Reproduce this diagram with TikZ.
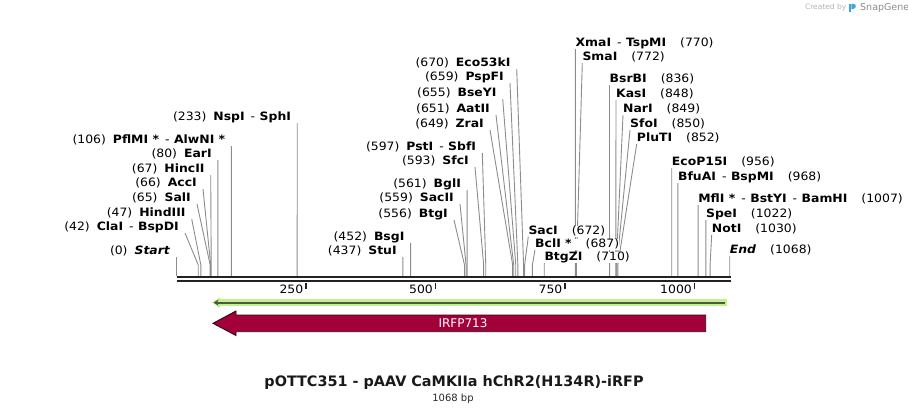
\documentclass[tikz,border=0pt]{standalone}
\usepackage{fontspec}
\setmainfont{DejaVu Sans}
\newfontfamily\sitefam{DejaVu Sans}[FakeStretch=1.08]
\usetikzlibrary{arrows.meta,calc,backgrounds}
\definecolor{leadgray}{RGB}{140,140,140}
\definecolor{axisdark}{RGB}{34,34,34}
\definecolor{featred}{RGB}{163,0,58}
\definecolor{featedge}{RGB}{40,10,20}
\definecolor{orfgreen}{RGB}{192,242,140}
\definecolor{orfdark}{RGB}{75,90,64}
\definecolor{snapblue}{RGB}{64,164,222}
\newcommand{\sitefont}{\sitefam\fontsize{11.5}{13}\selectfont}
\newcommand{\sdash}{\hspace{6pt}-\hspace{4.5pt}}
\tikzset{
  siteL/.style={anchor=south east, inner xsep=6pt, inner ysep=0pt, fill=white,
                text height=8.5pt, text depth=2.5pt, font=\sitefont},
  siteR/.style={siteL, anchor=south west, inner xsep=0pt},
  leader/.style={leadgray, line width=0.9pt},
  tickmark/.style={axisdark, line width=1.7pt},
  ticklbl/.style={font=\sitefont, anchor=east, inner sep=1pt},
}

\begin{document}
\begin{tikzpicture}[x=1pt,y=-1pt]
    \useasboundingbox (0,0) rectangle (908,415);
    % sequence axis
    \coordinate (axL) at (176.5,0);
    \coordinate (axR) at (730.5,0);
    \draw[axisdark, line width=2.3pt] (axL |- 0,277.2) -- (axR |- 0,277.2);
    \draw[axisdark, line width=2pt] (axL |- 0,281.3) -- (axR |- 0,281.3);
    \foreach \t in {250,500,750,1000} {
      \pgfmathsetmacro\tx{176.5+0.518*\t}
      \draw[tickmark] (\tx,282.5) -- (\tx,288.5);
      \node[ticklbl] (tick\t) at (\tx-1.5,289) {\t};
    }
    % sites left of the line
    \foreach \bp/\sx/\sy/\txt [count=\i] in {
      0/176.5/257/{(0)\hspace{7pt}\textbf{\textit{Start}}},
      42/185/233/{(42)\hspace{7pt}\textbf{ClaI}\sdash\textbf{BspDI}},
      47/191.7/219/{(47)\hspace{7pt}\textbf{HindIII}},
      65/197/204/{(65)\hspace{7pt}\textbf{SalI}},
      66/203/189/{(66)\hspace{7pt}\textbf{AccI}},
      67/210.7/175/{(67)\hspace{7pt}\textbf{HincII}},
      80/217.9/160/{(80)\hspace{7pt}\textbf{EarI}},
      106/231.4/146/{(106)\hspace{7pt}\textbf{PflMI *}\sdash\textbf{AlwNI *}},
      233/297.2/123/{(233)\hspace{7pt}\textbf{NspI}\sdash\textbf{SphI}},
      437/402.9/257/{(437)\hspace{7pt}\textbf{StuI}},
      452/410.6/243/{(452)\hspace{7pt}\textbf{BsgI}},
      556/454/220/{(556)\hspace{7pt}\textbf{BtgI}},
      559/460/204/{(559)\hspace{7pt}\textbf{SacII}},
      561/467.1/190/{(561)\hspace{7pt}\textbf{BglI}},
      593/475/167/{(593)\hspace{7pt}\textbf{SfcI}},
      597/482.3/153/{(597)\hspace{7pt}\textbf{PstI}\sdash\textbf{SbfI}},
      649/490/130/{(649)\hspace{7pt}\textbf{ZraI}},
      651/496/115/{(651)\hspace{7pt}\textbf{AatII}},
      655/502.7/99/{(655)\hspace{7pt}\textbf{BseYI}},
      659/510/83/{(659)\hspace{7pt}\textbf{PspFI}},
      670/516.7/69/{(670)\hspace{7pt}\textbf{Eco53kI}}} {
      \pgfmathsetmacro\cx{176.5+0.518*\bp}
      \coordinate (cutL\i) at (\cx,276);
      \node[siteL] (siteL\i) at (\sx,\sy) {\txt};
      \begin{scope}[on background layer]
        \draw[leader] (siteL\i.south east) -- ($(cutL\i)+(0,-11)$) -- (cutL\i);
      \end{scope}
    }
    % sites right of the line
    \foreach \bp/\sx/\sy/\txt [count=\i] in {
      672/528.3/236.7/{\textbf{SacI}\hspace{14pt}(672)},
      687/535/250/{\textbf{BclI *}\hspace{14pt}(687)},
      710/544.3/263/{\textbf{BtgZI}\hspace{14pt}(710)},
      770/575.4/49/{\textbf{XmaI}\sdash\textbf{TspMI}\hspace{14pt}(770)},
      772/582.3/63/{\textbf{SmaI}\hspace{14pt}(772)},
      836/609.5/85/{\textbf{BsrBI}\hspace{14pt}(836)},
      848/616/100/{\textbf{KasI}\hspace{14pt}(848)},
      849/623/115/{\textbf{NarI}\hspace{14pt}(849)},
      850/630/130/{\textbf{SfoI}\hspace{14pt}(850)},
      852/636.7/144/{\textbf{PluTI}\hspace{14pt}(852)},
      956/671.7/168/{\textbf{EcoP15I}\hspace{14pt}(956)},
      968/677.9/183/{\textbf{BfuAI}\sdash\textbf{BspMI}\hspace{14pt}(968)},
      1007/698.1/205/{\textbf{MflI *}\sdash\textbf{BstYI}\sdash\textbf{BamHI}\hspace{14pt}(1007)},
      1022/705.9/220/{\textbf{SpeI}\hspace{14pt}(1022)},
      1030/711.7/235/{\textbf{NotI}\hspace{14pt}(1030)},
      1068/729.7/256/{\textbf{\textit{End}}\hspace{14pt}(1068)}} {
      \pgfmathsetmacro\cx{176.5+0.518*\bp}
      \coordinate (cutR\i) at (\cx,276);
      \node[siteR] (siteR\i) at (\sx,\sy) {\txt};
      \begin{scope}[on background layer]
        \draw[leader] (siteR\i.south west) -- ($(cutR\i)+(0,-11)$) -- (cutR\i);
      \end{scope}
    }
    % translation line
    \fill[orfgreen] (217,299.4) rectangle (726.7,305.8);
    \fill[orfgreen] (212,302.6) -- (220,297.4) -- (220,307.8) -- cycle;
    \draw[orfdark, line width=2pt, -{Stealth[length=5pt,width=6pt]}] (724.5,302.6) -- (213.5,302.6);
    % feature
    \draw[featedge, fill=featred, line width=0.9pt] (705.7,315) -- (236,315) -- (236,311)
      -- (213,323.3) -- (236,335.5) -- (236,331.7) -- (705.7,331.7) -- cycle;
    \node[text=white, font=\fontsize{12}{14}\selectfont] (irfp) at (463,323.3) {IRFP713};
    % title
    \node[font=\fontsize{14.4}{16}\selectfont\bfseries, text=black!90] (title) at (454,383) {pOTTC351 - pAAV CaMKIIa hChR2(H134R)-iRFP};
    \node[font=\fontsize{10}{12}\selectfont, text=black!85] (size) at (453,398.5) {1068 bp};
    % credit
    \node[font=\fontsize{7.5}{9}\selectfont, text=black!30, anchor=east, inner sep=0pt] (credit) at (846.5,7.5) {Created by};
    \fill[snapblue] (849,3.8) rectangle (851.3,12.2);
    \fill[snapblue] (851.3,3.8) -- (853.5,3.8) .. controls (856.5,3.8) and (856.5,8.6) .. (853.5,8.8) -- (851.3,9.3) -- cycle;
    \node[font=\fontsize{9.5}{11}\selectfont, text=black!45, anchor=west, inner sep=0pt] (brand) at (860,7.5) {SnapGene};
\end{tikzpicture}
\end{document}
